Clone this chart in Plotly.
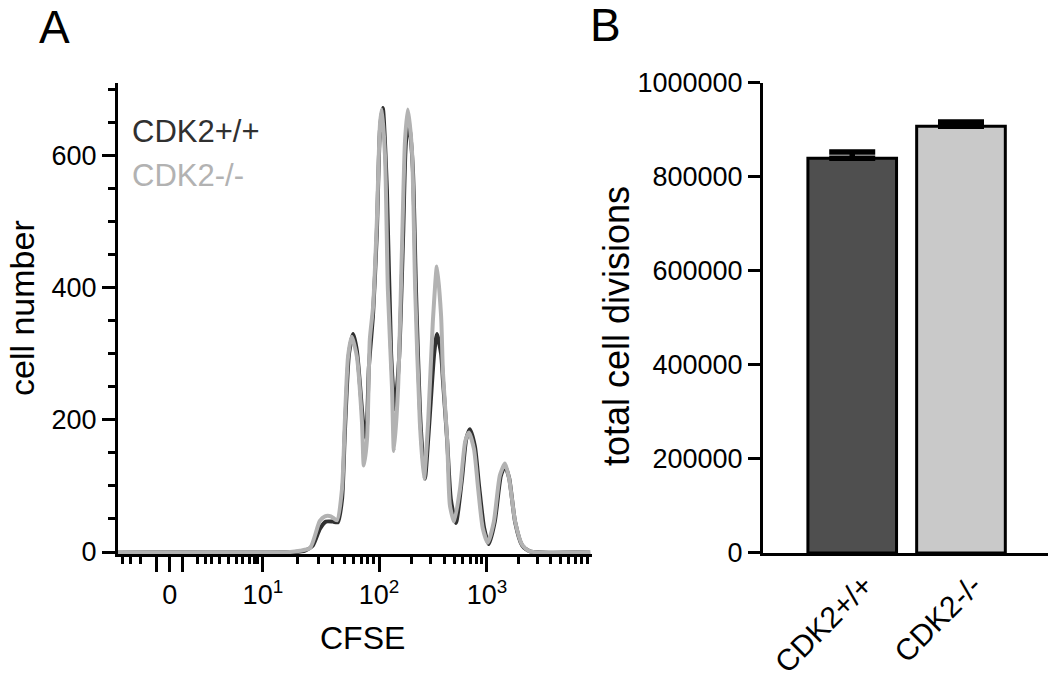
import numpy as np
import plotly.graph_objects as go

# ---------------- data ----------------
# Panel A: CFSE histogram (x in display channel units 0-1024 of the biexponential axis)
CH_WT = [0, 382, 404, 421, 436, 449, 464, 475, 484, 490, 499, 508, 516, 523, 529, 536, 542, 551, 559,
         566, 572, 581, 590, 598, 607, 616, 622, 629, 637, 644, 654, 663, 672, 683, 689, 698, 702, 711,
         719, 730, 743, 752, 760, 771, 780, 791, 801, 814, 827, 836, 845, 858, 873, 890, 1020]
N_WT = [0, 0, 2, 10, 35, 46, 46, 45, 80, 180, 300, 330, 305, 251, 200, 171, 280, 360, 480,
        640, 672, 547, 300, 216, 290, 480, 620, 650, 580, 390, 190, 111, 190, 300, 330, 300, 260, 170,
        80, 44, 110, 170, 186, 160, 100, 36, 12, 46, 115, 130, 112, 45, 10, 1, 0]

CH_KO = [0, 372, 393, 415, 436, 447, 460, 473, 484, 490, 497, 505, 516, 527, 531, 538, 544, 551, 559,
         566, 570, 577, 583, 592, 596, 605, 613, 620, 626, 635, 642, 652, 661, 670, 680, 689, 698, 702,
         711, 717, 726, 739, 750, 758, 769, 778, 788, 799, 812, 825, 836, 845, 858, 873, 890, 1020]
N_KO = [0, 0, 2, 6, 47, 54, 54, 48, 96, 197, 296, 326, 296, 197, 131, 171, 322, 371, 497,
        648, 670, 597, 397, 247, 153, 247, 447, 622, 670, 608, 397, 197, 111, 197, 347, 432, 357, 272,
        172, 71, 46, 96, 167, 181, 156, 96, 36, 14, 46, 116, 134, 111, 46, 11, 1, 0]

SERIES_A = ["CDK2+/+", "CDK2-/-"]

# x-axis (biexponential) tick positions and labels
X_MAJOR_POS = [84, 112, 140, 313, 564, 797]
X_MAJOR_TXT = ["", "0", "", "10<sup>1</sup>", "10<sup>2</sup>", "10<sup>3</sup>"]
DECADES = [313, 564, 797, 1024]
X_MINOR_LOW = [9, 28, 48, 171, 188, 203, 220, 238, 255, 270, 283, 294, 302]

Y_TICKS_A = [0, 200, 400, 600]

# Panel B: total cell divisions
CATS = ["CDK2+/+", "CDK2-/-"]
TOTALS = [840000, 908000]
ERRS = [13000, 9000]
Y_TICKS_B = [0, 200000, 400000, 600000, 800000, 1000000]

# ---------------- styling ----------------
FONT = "Liberation Sans, Arial, Helvetica, sans-serif"
DARK = "#303030"
LIGHT = "#b2b2b2"

x_minor = list(X_MINOR_LOW)
for i in range(3):
    for m in range(2, 10):
        x_minor.append(DECADES[i] + (DECADES[i + 1] - DECADES[i]) * np.log10(m))

fig = go.Figure()
fig.add_trace(go.Scatter(x=CH_WT, y=N_WT, mode="lines", name=SERIES_A[0],
                         line=dict(color=DARK, width=4, shape="spline", smoothing=0.6),
                         xaxis="x", yaxis="y", showlegend=False))
fig.add_trace(go.Scatter(x=CH_KO, y=N_KO, mode="lines", name=SERIES_A[1],
                         line=dict(color=LIGHT, width=4, shape="spline", smoothing=0.6),
                         xaxis="x", yaxis="y", showlegend=False))

fig.add_trace(go.Bar(x=CATS, y=TOTALS, width=0.815,
                     marker=dict(color=["#4f4f4f", "#c9c9c9"], line=dict(color="black", width=3)),
                     error_y=dict(type="data", array=ERRS, arrayminus=[0, 0], symmetric=False,
                                  color="black", thickness=5.5, width=23),
                     xaxis="x2", yaxis="y2", showlegend=False))

axis_common = dict(showline=True, linewidth=3, linecolor="black", showgrid=False, zeroline=False,
                   ticks="outside", tickwidth=3, tickcolor="black", automargin=False,
                   tickfont=dict(family=FONT, size=27, color="black"))

fig.update_layout(
    width=1050, height=679,
    margin=dict(l=0, r=0, t=0, b=0, autoexpand=False),
    paper_bgcolor="white", plot_bgcolor="white",
    font=dict(family=FONT, color="black"),
    xaxis=dict(domain=[0.1124, 0.5638], range=[0, 1024], anchor="y",
               tickmode="array", tickvals=X_MAJOR_POS, ticktext=X_MAJOR_TXT, ticklen=15,
               minor=dict(tickmode="array", tickvals=x_minor, ticklen=7, tickwidth=2.5,
                          ticks="outside", tickcolor="black", showgrid=False),
               layer="below traces", **axis_common),
    yaxis=dict(domain=[0.1841, 0.8778], range=[-3, 710], anchor="x",
               tickmode="array", tickvals=Y_TICKS_A, ticklen=13,
               minor=dict(dtick=50, tick0=0, ticklen=7, tickwidth=3, ticks="outside",
                          tickcolor="black", showgrid=False),
               layer="below traces", **axis_common),
    xaxis2=dict(domain=[0.7267, 0.9981], range=[-0.82, 1.80], anchor="y2", type="category",
                showline=True, linewidth=3, linecolor="black", showgrid=False, zeroline=False,
                automargin=False, ticklabelshift=12,
                ticks="", tickangle=-45, tickfont=dict(family=FONT, size=30, color="black")),
    yaxis2=dict(domain=[0.1856, 0.8778], range=[0, 1000000], anchor="x2",
                tickmode="array", tickvals=Y_TICKS_B, ticktext=[str(v) for v in Y_TICKS_B],
                ticklen=12, **axis_common),
)

ann = [
    dict(text="A", x=54 / 1050, y=1 - 27 / 679, font=dict(size=46)),
    dict(text="B", x=605 / 1050, y=1 - 25 / 679, font=dict(size=46)),
    dict(text="cell number", x=22 / 1050, y=1 - 308 / 679, textangle=-90, font=dict(size=34)),
    dict(text="CFSE", x=362 / 1050, y=1 - 638 / 679, font=dict(size=32)),
    dict(text="total cell divisions", x=616 / 1050, y=1 - 326 / 679, textangle=-90, font=dict(size=36)),
]
for a in ann:
    fig.add_annotation(xref="paper", yref="paper", showarrow=False, xanchor="center", yanchor="middle",
                       **{k: v for k, v in a.items() if k != "font"},
                       font=dict(family=FONT, color="black", size=a["font"]["size"]))

fig.add_annotation(xref="paper", yref="paper", showarrow=False, xanchor="left", yanchor="middle",
                   x=130 / 1050, y=1 - 131 / 679, text=SERIES_A[0],
                   font=dict(family=FONT, size=31, color=DARK))
fig.add_annotation(xref="paper", yref="paper", showarrow=False, xanchor="left", yanchor="middle",
                   x=130 / 1050, y=1 - 176 / 679, text=SERIES_A[1],
                   font=dict(family=FONT, size=31, color=LIGHT))

fig.write_html("out.html", config={"displayModeBar": False},
               post_script="document.body.style.margin='0px';document.body.style.overflow='hidden';")
